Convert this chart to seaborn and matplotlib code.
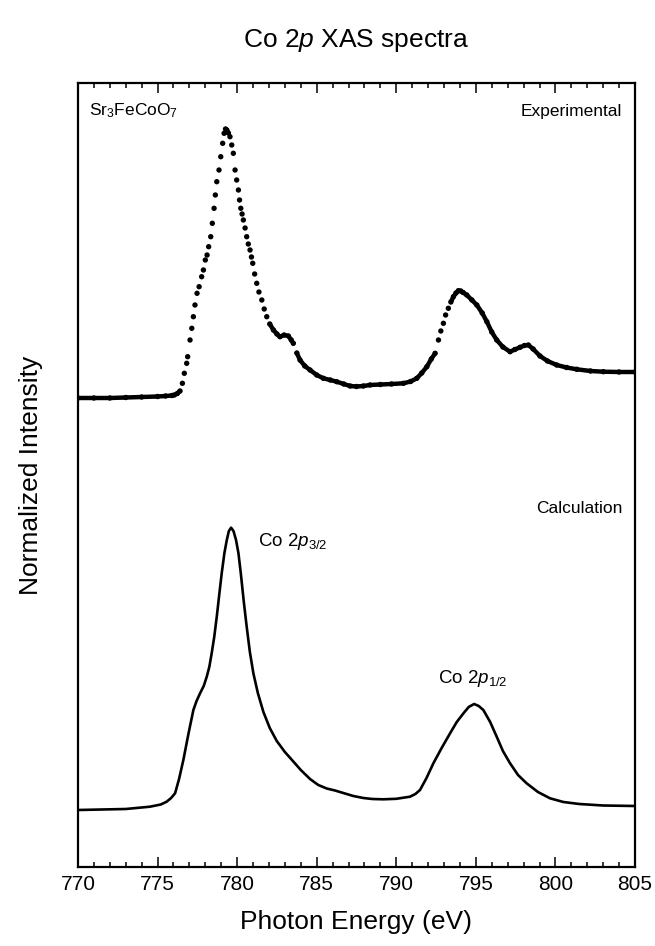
import numpy as np
import pandas as pd
import matplotlib
matplotlib.use("Agg")
import matplotlib.pyplot as plt
from matplotlib.ticker import MultipleLocator
import seaborn as sns

# ---------------- data ----------------
# Experimental Co 2p XAS (photon energy in eV, intensity in arbitrary units)
exp_energy = [770.0, 771.0, 772.0, 773.0, 774.0, 775.0, 775.5, 775.9, 776.05, 776.24,
              776.41, 776.56, 776.68, 776.83, 776.89, 777.04, 777.15, 777.25, 777.35, 777.48,
              777.61, 777.77, 777.88, 778.0, 778.11, 778.21, 778.34, 778.44, 778.55, 778.63,
              778.72, 778.86, 778.97, 779.09, 779.18, 779.27, 779.35, 779.45, 779.55, 779.66,
              779.76, 779.87, 779.97, 780.08, 780.15, 780.23, 780.31, 780.39, 780.5, 780.6,
              780.7, 780.81, 780.9, 780.98, 781.1, 781.23, 781.37, 781.55, 781.7, 781.86,
              782.05, 782.28, 782.5, 782.69, 782.95, 783.22, 783.4, 783.53, 783.75, 783.95,
              784.25, 784.58, 785.0, 785.42, 785.85, 786.26, 786.7, 787.1, 787.5, 787.93,
              788.35, 789.0, 789.7, 790.45, 790.9, 791.29, 791.6, 791.92, 792.2, 792.44,
              792.65, 792.8, 792.96, 793.1, 793.27, 793.43, 793.59, 793.75, 793.9, 794.05,
              794.2, 794.43, 794.75, 795.06, 795.4, 795.69, 796.0, 796.31, 796.7, 797.15,
              797.45, 797.78, 798.05, 798.3, 798.6, 799.03, 799.5, 800.08, 800.7, 801.34,
              802.2, 803.01, 804.0, 805.0]
exp_intensity = [469, 469, 469, 469.5, 470, 470.5, 471, 471.5, 472, 473.5,
                 476, 483.7, 493.7, 503.7, 510.3, 527, 538.7, 550.3, 562, 573.7,
                 580.3, 590.3, 597, 607, 612, 620.3, 630.3, 643.7, 658.7, 672,
                 685.3, 697, 710.3, 723.7, 733.7, 738, 737, 734, 730.3, 722,
                 713.7, 697, 687, 677, 667, 658.7, 653, 647, 639, 630.3,
                 623, 617, 610, 603.7, 593, 583.7, 575, 567, 558, 550.3,
                 543, 537, 533, 530.3, 532, 531, 527, 523.7, 514, 507,
                 501, 497, 492, 488.7, 487, 485.3, 483, 481, 480.5, 481,
                 482, 482.5, 483, 483.7, 485.5, 488.7, 494, 500.3, 508, 513.7,
                 527, 536, 543.7, 552, 558.7, 565, 570.3, 574, 576.3, 576,
                 574.5, 572, 567, 562, 554, 545.3, 535, 527, 520, 515.3,
                 517.5, 519.7, 521.5, 522, 518, 511, 506, 502, 499.5, 497.7,
                 496, 495.3, 495, 495]

# Calculated spectrum
calc_energy = [770.0, 771.5, 773.0, 774.52, 775.2, 775.57, 775.85, 776.1, 776.35, 776.62,
               776.95, 777.25, 777.45, 777.67, 777.9, 778.09, 778.25, 778.4, 778.56, 778.72,
               778.88, 779.03, 779.2, 779.35, 779.48, 779.62, 779.77, 779.93, 780.08, 780.23,
               780.42, 780.6, 780.8, 781.02, 781.3, 781.65, 782.05, 782.49, 783.0, 783.53,
               784.0, 784.58, 785.1, 785.63, 786.15, 786.67, 787.3, 787.93, 788.5, 789.19,
               790.0, 790.86, 791.2, 791.49, 791.9, 792.33, 792.85, 793.38, 793.8, 794.22,
               794.55, 794.89, 795.18, 795.47, 795.9, 796.31, 796.7, 797.15, 797.65, 798.19,
               798.9, 799.66, 800.5, 801.5, 803.0, 805.0]
calc_intensity = [57, 57.5, 58, 60.3, 62.5, 65.3, 69, 73.7, 88, 107,
                  134, 157, 166, 173.7, 181, 190.3, 200, 213.7, 230, 250.3,
                  273, 293.7, 314, 327, 336, 339.3, 336, 327, 314, 293.7,
                  265, 240.3, 215, 193.7, 174, 155, 139, 126, 115, 105.5,
                  97, 88, 82, 78.5, 76.5, 74, 71, 69, 68, 67.7,
                  68.2, 70.3, 73, 77, 89, 103.7, 119, 133.7, 145, 153.7,
                  160, 163, 161, 157, 145, 130.3, 116, 103.7, 92, 83.7,
                  75, 68.7, 65, 63, 61.5, 61]

x_ticks = [770, 775, 780, 785, 790, 795, 800, 805]
x_tick_labels = ["770", "775", "780", "785", "790", "795", "800", "805"]

# ---------------- styling ----------------
sns.set_theme(style="white")
plt.rcParams["font.family"] = ["Liberation Sans", "DejaVu Sans"]
plt.rcParams["mathtext.fontset"] = "custom"
plt.rcParams["mathtext.rm"] = "Liberation Sans"
plt.rcParams["mathtext.it"] = "Liberation Sans:italic"
plt.rcParams["mathtext.bf"] = "Liberation Sans:bold"
plt.rcParams["text.color"] = "black"
plt.rcParams["axes.labelcolor"] = "black"
plt.rcParams["xtick.color"] = "black"

W, H = 655, 946
fig = plt.figure(figsize=(W / 100, H / 100), dpi=100)
ax_l, ax_r, ax_t, ax_b = 78, 635, 83, 867
ax = fig.add_axes([ax_l / W, 1 - ax_b / H, (ax_r - ax_l) / W, (ax_b - ax_t) / H])

# experimental: dots; where the curve is shallow the dots merge into a solid trace
exp_df = pd.DataFrame({"energy": exp_energy, "intensity": exp_intensity})
slope = np.abs(np.diff(exp_df["intensity"].to_numpy()) / np.diff(exp_df["energy"].to_numpy()))
exp_df["seg"] = np.concatenate([[0], np.cumsum(slope > 35)])
sns.lineplot(data=exp_df, x="energy", y="intensity", units="seg", estimator=None,
             color="black", linewidth=3.2, ax=ax, legend=False)
sns.scatterplot(data=exp_df, x="energy", y="intensity", color="black", s=15,
                edgecolor="none", ax=ax, legend=False)

calc_df = pd.DataFrame({"energy": calc_energy, "intensity": calc_intensity})
sns.lineplot(data=calc_df, x="energy", y="intensity", color="black", linewidth=1.9,
             ax=ax, legend=False)

ax.set_xlim(770, 805)
ax.set_ylim(0, ax_b - ax_t)
ax.set_xticks(x_ticks)
ax.set_xticklabels(x_tick_labels)
ax.xaxis.set_minor_locator(MultipleLocator(1))
ax.set_yticks([])
ax.tick_params(axis="x", which="both", direction="in", top=True, bottom=True,
               labelsize=15, pad=6, width=1.1, colors="black")
ax.tick_params(axis="x", which="major", length=7.5)
ax.tick_params(axis="x", which="minor", length=3.8)
for sp in ax.spines.values():
    sp.set_linewidth(1.6)
    sp.set_color("black")
    sp.set_visible(True)

ax.set_xlabel("")
ax.set_ylabel("Normalized Intensity", fontsize=19, labelpad=25)

cx = (ax_l + ax_r) / 2 / W
fig.text(cx, 1 - 40 / H, "Co 2$\\it{p}$ XAS spectra", ha="center", va="center", fontsize=19)
fig.text(cx, 1 - 922 / H, "Photon Energy (eV)", ha="center", va="center", fontsize=19)

ax.text(770.7, 867 - 111, "Sr$_3$FeCoO$_7$", fontsize=12.5, ha="left", va="center")
ax.text(804.2, 867 - 111, "Experimental", fontsize=12.5, ha="right", va="center")
ax.text(804.2, 867 - 508, "Calculation", fontsize=12.5, ha="right", va="center")
ax.text(781.3, 867 - 541, "Co 2$p_{\\mathrm{3/2}}$", fontsize=13.5, ha="left", va="center")
ax.text(792.6, 867 - 678, "Co 2$p_{\\mathrm{1/2}}$", fontsize=13.5, ha="left", va="center")

fig.savefig("out.png", dpi=100)
